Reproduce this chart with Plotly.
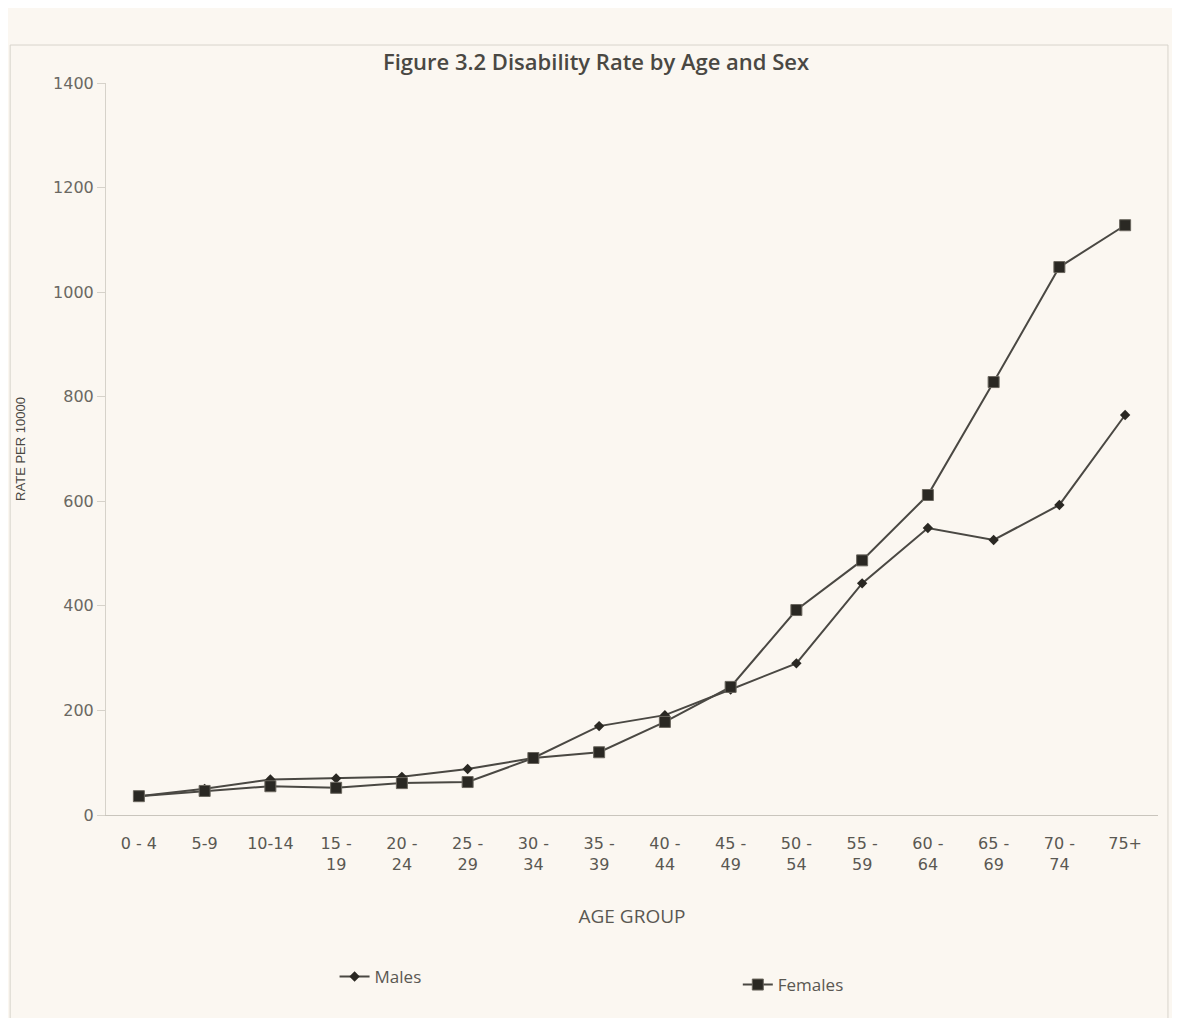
import plotly.graph_objects as go

age_groups = ["0 - 4", "5-9", "10-14", "15 -<br>19", "20 -<br>24", "25 -<br>29", "30 -<br>34",
              "35 -<br>39", "40 -<br>44", "45 -<br>49", "50 -<br>54", "55 -<br>59", "60 -<br>64",
              "65 -<br>69", "70 -<br>74", "75+"]
males = [36, 50, 68, 70, 73, 88, 109, 170, 191, 240, 290, 443, 549, 526, 593, 765]
females = [36, 46, 55, 52, 61, 63, 109, 120, 178, 245, 392, 487, 612, 828, 1048, 1128]
y_ticks = [0, 200, 400, 600, 800, 1000, 1200, 1400]

line_col = "#4a4843"
mark_col = "#2a2823"
txt = "#5a5852"

# page body has an 8px margin; plot area in screen px: x 104..1158, y 83..815
PW, PH = 1054, 732
def px(sx):
    return (sx - 104) / PW
def py(sy):
    return (815 - sy) / PH

fig = go.Figure()
fig.add_trace(go.Scatter(
    x=list(range(len(age_groups))), y=males, name="Males", mode="lines+markers",
    line=dict(color=line_col, width=2),
    marker=dict(symbol="diamond", size=8, color=mark_col), legend="legend"))
fig.add_trace(go.Scatter(
    x=list(range(len(age_groups))), y=females, name="Females", mode="lines+markers",
    line=dict(color=line_col, width=2),
    marker=dict(symbol="square", size=11, color=mark_col, line=dict(color="#6a665e", width=1)),
    legend="legend2"))

leg_common = dict(orientation="h", xanchor="left", yanchor="middle", bgcolor="rgba(0,0,0,0)",
                  font=dict(family="Open Sans", size=17, color=txt))

fig.update_layout(
    width=1180, height=1018,
    margin=dict(l=96, r=30, t=75, b=211),
    paper_bgcolor="#fbf7f1", plot_bgcolor="#fbf7f1",
    title=dict(text="Figure 3.2 Disability Rate by Age and Sex", x=px(595), xanchor="center",
               xref="paper", y=1 - 54 / 1018, yanchor="middle",
               font=dict(family="Open Sans", size=22, color="#4a4843", weight=600)),
    font=dict(family="DejaVu Sans", color=txt),
    showlegend=True,
    legend=dict(x=px(333), y=py(977), **leg_common),
    legend2=dict(x=px(737), y=py(985), **leg_common),
    xaxis=dict(tickmode="array", tickvals=list(range(len(age_groups))), ticktext=age_groups,
               range=[-0.5, len(age_groups) - 0.5], showgrid=False, zeroline=False,
               showline=True, linecolor="#c9c5bd", linewidth=1,
               ticks="outside", ticklen=14, tickcolor="rgba(0,0,0,0)",
               tickfont=dict(family="DejaVu Sans", size=16, color=txt),
               title=dict(text="AGE GROUP", standoff=36,
                          font=dict(family="Open Sans", size=19, color=txt))),
    yaxis=dict(range=[0, 1400], tickvals=y_ticks, showgrid=False, zeroline=False,
               showline=True, linecolor="#d6d2ca", linewidth=1,
               ticks="outside", ticklen=8, tickcolor="#d6d2ca",
               tickfont=dict(family="DejaVu Sans", size=16, color="#6a6862"),
               title=dict(text="RATE PER 10000", standoff=24,
                          font=dict(family="Liberation Sans Narrow, Liberation Sans", size=13, color="#4a4843"))),
)

# faint chart border
fig.add_shape(type="rect", xref="paper", yref="paper",
              x0=px(8), x1=px(1168), y0=py(1030), y1=py(45),
              line=dict(color="#d8d4cc", width=1), layer="below")

fig.write_html("out.html")
